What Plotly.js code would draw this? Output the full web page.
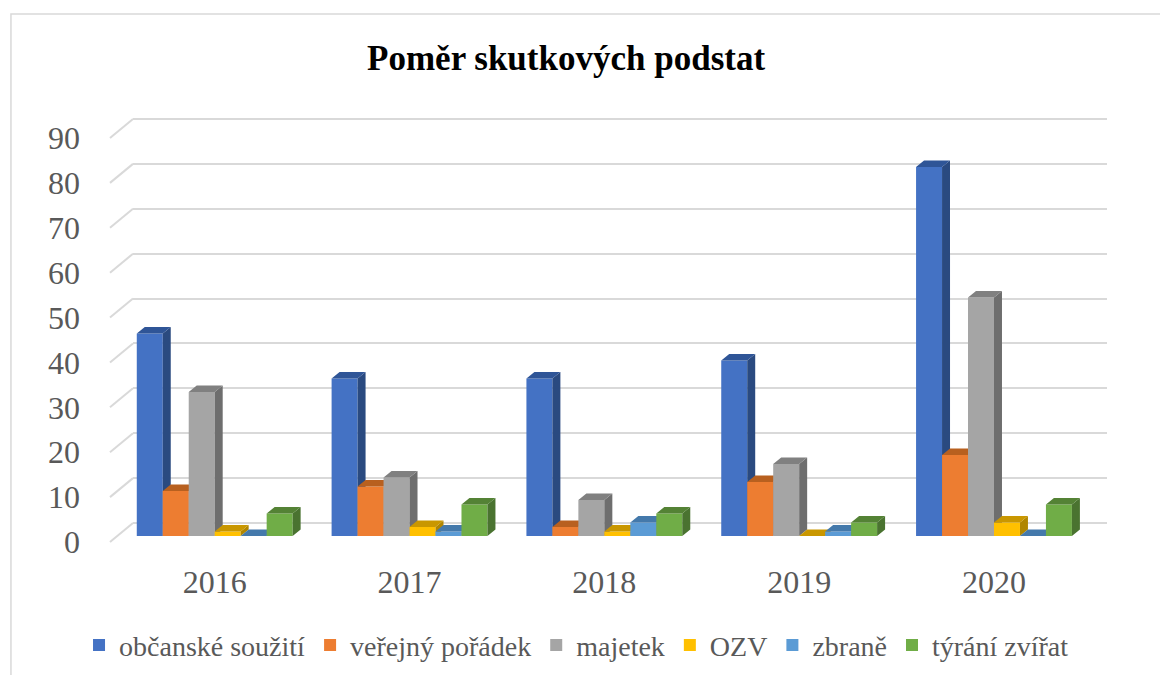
<!DOCTYPE html>
<html><head><meta charset="utf-8">
<script src="https://cdn.plot.ly/plotly-3.0.1.min.js"></script>
<style>html,body{margin:0;padding:0;background:#fff}#chart{width:1160px;height:675px}</style>
</head><body><div id="chart"></div>
<script>
// ---- data ----
const years = ['2016', '2017', '2018', '2019', '2020'];
const seriesNames = ['občanské soužití', 'veřejný pořádek', 'majetek', 'OZV', 'zbraně', 'týrání zvířat'];
const obcanskeSouziti = [45, 35, 35, 39, 82];
const verejnyPoradek = [10, 11, 2, 12, 18];
const majetek = [32, 13, 8, 16, 53];
const ozv = [1, 2, 1, 0, 3];
const zbrane = [0, 1, 3, 1, 0];
const tyraniZvirat = [5, 7, 5, 3, 7];
const yTicks = [0, 10, 20, 30, 40, 50, 60, 70, 80, 90];

// ---- style ----
const seriesValues = [obcanskeSouziti, verejnyPoradek, majetek, ozv, zbrane, tyraniZvirat];
const frontColors = ['#4472C4', '#ED7D31', '#A5A5A5', '#FFC000', '#5B9BD5', '#70AD47'];
const topColors   = ['#2F5597', '#B8601F', '#808080', '#C99700', '#4479AB', '#548235'];
const sideColors  = ['#2A4A80', '#A85620', '#6E6E6E', '#B08600', '#3E6D9A', '#4A7330'];
const FONT = "'Liberation Serif', 'Times New Roman', serif";
const TXT = '#595959';
const GRID = '#d9d9d9';

const n = seriesValues.length;
const groupWidth = 0.8;
const barW = groupWidth / n;
const depthX = 0.041;  // 3D depth in x units
const depthY = 1.45;   // 3D depth in y units
const xIdx = years.map((_, i) => i);

// gridline (back wall) subplot geometry
const gx0 = 0.03235, gx1 = 0.98725, gy0 = 0.07033, gy1 = 0.95824;
const yTop = 90;
const yTopPad = 91;

const traces = [{type: 'scatter', x: [], y: [], xaxis: 'x', yaxis: 'y', showlegend: false, hoverinfo: 'skip'}];

seriesValues.forEach((vals, j) => {
  const k = j + 2;
  const xa = 'x' + k, ya = 'y' + k;
  const off = -groupWidth / 2 + j * barW;
  const sx = [], sy = [], tx = [], ty = [];
  vals.forEach((v, i) => {
    const x0 = i + off, x1 = x0 + barW;
    sx.push(x1, x1 + depthX, x1 + depthX, x1, null);
    sy.push(0, depthY, v + depthY, v, null);
    tx.push(x0, x0 + depthX, x1 + depthX, x1, null);
    ty.push(v, v + depthY, v + depthY, v, null);
  });
  traces.push({
    type: 'bar', name: seriesNames[j], x: xIdx, y: vals, offset: off, width: barW,
    marker: {color: frontColors[j], line: {width: 0}}, xaxis: xa, yaxis: ya,
    hovertemplate: '%{y}<extra>' + seriesNames[j] + '</extra>'
  });
  traces.push({
    type: 'scatter', mode: 'lines', x: sx, y: sy, fill: 'toself', fillcolor: sideColors[j],
    line: {width: 0, color: sideColors[j]}, xaxis: xa, yaxis: ya, showlegend: false, hoverinfo: 'skip'
  });
  traces.push({
    type: 'scatter', mode: 'lines', x: tx, y: ty, fill: 'toself', fillcolor: topColors[j],
    line: {width: 0, color: topColors[j]}, xaxis: xa, yaxis: ya, showlegend: false, hoverinfo: 'skip'
  });
});

const layout = {
  width: 1160, height: 675,
  margin: {l: 100, r: 40, t: 100, b: 120},
  paper_bgcolor: '#ffffff', plot_bgcolor: 'rgba(0,0,0,0)',
  barmode: 'overlay',
  showlegend: true,
  title: {
    text: '<b>Poměr skutkových podstat</b>',
    font: {family: FONT, size: 35, color: '#000000'},
    xref: 'container', x: 0.488, xanchor: 'center',
    yref: 'container', y: 0.914, yanchor: 'middle'
  },
  legend: {
    orientation: 'h', xref: 'container', x: 0.497, xanchor: 'center',
    yref: 'container', y: 0.044, yanchor: 'middle',
    font: {family: FONT, size: 28, color: TXT}, itemwidth: 30, traceorder: 'normal'
  },
  xaxis: {domain: [gx0, gx1], range: [0, 1], visible: false, fixedrange: true},
  yaxis: {
    domain: [gy0, gy0 + (gy1 - gy0) * yTopPad / yTop], range: [0, yTopPad], anchor: 'x',
    tickmode: 'array', tickvals: yTicks, ticktext: yTicks.map(String),
    showgrid: true, gridcolor: GRID, gridwidth: 2,
    zeroline: true, zerolinecolor: GRID, zerolinewidth: 2,
    showline: false, ticks: '',
    tickfont: {family: FONT, size: 32, color: TXT},
    ticklabelshift: 19, ticklabelstandoff: 52, fixedrange: true
  },
  xaxis2: {
    domain: [0.01696, 0.97196], range: [-0.5, 4.5], anchor: 'y2',
    tickmode: 'array', tickvals: xIdx, ticktext: years,
    showgrid: false, zeroline: false, showline: false, ticks: '',
    tickfont: {family: FONT, size: 32, color: TXT},
    ticklabelstandoff: 24, fixedrange: true
  },
  yaxis2: {domain: [0.04176, 0.93187], range: [0, 90], anchor: 'x2', visible: false, fixedrange: true},
  shapes: []
};
for (let k = 3; k <= 7; k++) {
  layout['xaxis' + k] = {overlaying: 'x2', range: [-0.5, 4.5], anchor: 'y' + k, visible: false, fixedrange: true};
  layout['yaxis' + k] = {overlaying: 'y2', range: [0, 90], anchor: 'x' + k, visible: false, fixedrange: true};
}
// perspective diagonals of the gridlines on the left wall
yTicks.forEach(v => {
  layout.shapes.push({
    type: 'line', xref: 'paper', yref: 'paper',
    x0: 0.0098, x1: gx0,
    ysizemode: 'pixel', yanchor: gy0 + (gy1 - gy0) * v / yTop, y0: -19, y1: 0,
    line: {color: GRID, width: 2}, layer: 'below'
  });
});
// chart border (left and top edges visible)
layout.shapes.push({
  type: 'rect', xref: 'paper', yref: 'paper', x0: -0.0873, x1: 1.2, y0: -0.4, y1: 1.189,
  line: {color: GRID, width: 1.5}, fillcolor: 'rgba(0,0,0,0)', layer: 'below'
});

Plotly.newPlot('chart', traces, layout, {displayModeBar: false, responsive: false});
</script>
</body></html>
